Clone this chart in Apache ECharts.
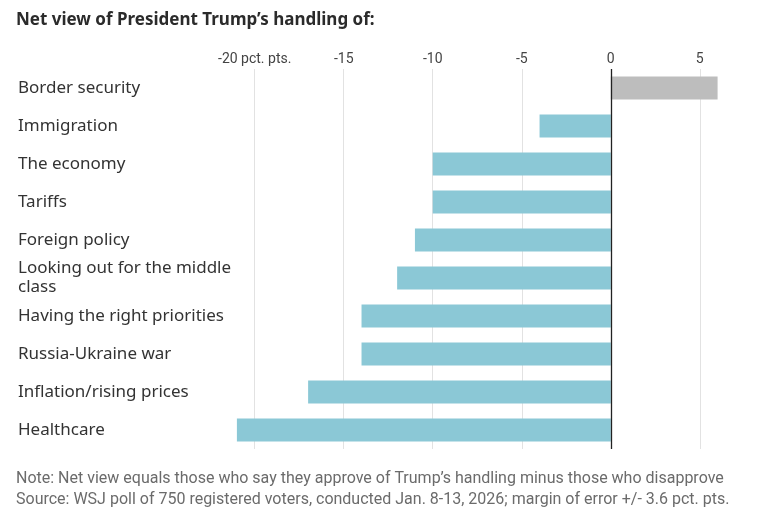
<!DOCTYPE html>
<html>
<head>
<meta charset="utf-8">
<script src="https://cdn.jsdelivr.net/npm/echarts@6/dist/echarts.min.js"></script>
<style>
  html, body { margin: 0; padding: 0; background: #fff; }
  #chart { width: 773px; height: 524px; }
</style>
</head>
<body>
<div id="chart"></div>
<script>
var categories = [
    'Border security', 'Immigration', 'The economy', 'Tariffs', 'Foreign policy',
    'Looking out for the middle class', 'Having the right priorities',
    'Russia-Ukraine war', 'Inflation/rising prices', 'Healthcare'
];
var netView = [6, -4, -10, -10, -11, -12, -14, -14, -17, -21];
var tickValues = [-20, -15, -10, -5, 0, 5];

var noteText = 'Note: Net view equals those who say they approve of Trump\u2019s handling minus those who disapprove';
var sourceText = 'Source: WSJ poll of 750 registered voters, conducted Jan. 8-13, 2026; margin of error +/- 3.6 pct. pts.';

var narrow = '"Liberation Sans Narrow", "Roboto", sans-serif';

var option = {
    backgroundColor: '#fff',
    animation: false,
    title: {
        text: 'Net view of President Trump\u2019s handling of:',
        left: 16,
        top: 12,
        padding: 0,
        textStyle: {
            fontFamily: '"Noto Sans", sans-serif',
            fontWeight: 'bold',
            fontSize: 17,
            color: '#2b2b2b'
        }
    },
    grid: {
        left: 228,
        right: 2,
        top: 69,
        bottom: 75,
        containLabel: false
    },
    xAxis: {
        type: 'value',
        position: 'top',
        min: -21.5,
        max: 9,
        axisLine: { show: false },
        axisTick: { show: false, customValues: tickValues },
        splitLine: { show: true, lineStyle: { color: '#e2e2e2', width: 1 } },
        axisLabel: {
            customValues: tickValues,
            margin: 3,
            fontFamily: narrow,
            fontSize: 14,
            color: '#444',
            formatter: function (v) {
                return v === -20 ? '-20 pct. pts.' : String(v);
            }
        }
    },
    yAxis: {
        type: 'category',
        inverse: true,
        data: categories,
        axisLine: { show: false },
        axisTick: { show: false },
        splitLine: { show: false },
        axisLabel: {
            align: 'left',
            margin: 210,
            width: 220,
            overflow: 'break',
            lineHeight: 19,
            padding: [6, 0, 0, 0],
            fontFamily: '"Noto Sans", sans-serif',
            fontSize: 17,
            color: '#333'
        }
    },
    series: [{
        type: 'bar',
        data: netView,
        barCategoryGap: '40%',
        itemStyle: {
            color: function (p) {
                return p.value > 0 ? '#bdbdbd' : '#8bc8d6';
            }
        },
        markLine: {
            silent: true,
            symbol: 'none',
            label: { show: false },
            lineStyle: { color: '#222', width: 1.3, type: 'solid' },
            data: [{ xAxis: 0 }]
        }
    }],
    graphic: [{
        type: 'text',
        left: 16,
        top: 471,
        style: {
            text: noteText,
            fontFamily: narrow,
            fontSize: 16,
            fill: '#6b6b6b'
        }
    }, {
        type: 'text',
        left: 16,
        top: 492,
        style: {
            text: sourceText,
            fontFamily: narrow,
            fontSize: 16,
            fill: '#6b6b6b'
        }
    }]
};

var myChart = echarts.init(document.getElementById('chart'));
myChart.setOption(option);
</script>
</body>
</html>
